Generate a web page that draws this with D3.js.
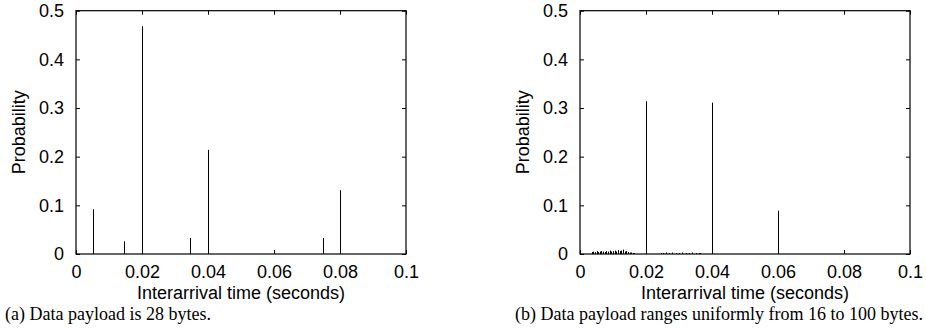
<!DOCTYPE html>
<html>
<head>
<meta charset="utf-8">
<script src="https://cdn.jsdelivr.net/npm/d3@7"></script>
<style>
  body { margin: 0; background: #fff; }
  svg text { font-family: "Liberation Sans", Arial, sans-serif; }
  .caption { font-family: "Liberation Serif", "Times New Roman", serif; font-size: 18px; }
</style>
</head>
<body>
<svg id="chart" width="926" height="329"></svg>
<script>
// Panel (a): payload 28 bytes
var timesA = [0.0052, 0.0145, 0.02, 0.0346, 0.04, 0.0748, 0.08];
var probA = [0.092, 0.026, 0.468, 0.033, 0.214, 0.033, 0.131];

// Panel (b): payload uniform 16..100 bytes
var timesB = [0.0035, 0.004, 0.0045, 0.005, 0.0055, 0.006, 0.0065, 0.007, 0.0075, 0.008,
              0.0085, 0.009, 0.0095, 0.01, 0.0105, 0.011, 0.0115, 0.012, 0.0125, 0.013,
              0.0135, 0.014, 0.0145, 0.015, 0.0155, 0.016, 0.0165,
              0.02,
              0.0245, 0.025, 0.026, 0.027, 0.028, 0.029, 0.03, 0.031, 0.032, 0.033, 0.034, 0.035, 0.036, 0.0365,
              0.04, 0.06];
var probB = [0.004, 0.005, 0.004, 0.006, 0.004, 0.005, 0.006, 0.005, 0.004, 0.006,
             0.005, 0.007, 0.005, 0.006, 0.007, 0.005, 0.008, 0.006, 0.007, 0.009,
             0.005, 0.006, 0.004, 0.003, 0.003, 0.002, 0.002,
             0.314,
             0.002, 0.002, 0.003, 0.002, 0.003, 0.002, 0.002, 0.003, 0.002, 0.002, 0.003, 0.002, 0.002, 0.002,
             0.311, 0.089];

var xTicks = [0, 0.02, 0.04, 0.06, 0.08, 0.1];
var xTickLabels = ["0", "0.02", "0.04", "0.06", "0.08", "0.1"];
var yTicks = [0, 0.1, 0.2, 0.3, 0.4, 0.5];
var yTickLabels = ["0", "0.1", "0.2", "0.3", "0.4", "0.5"];

var captions = ["(a) Data payload is 28 bytes.",
                "(b) Data payload ranges uniformly from 16 to 100 bytes."];

var svg = d3.select("#chart");

function drawPanel(left, times, probs, caption, captionX) {
    var right = left + 330, top = 10.7, bottom = 254;

    var xScale = d3.scaleLinear().domain([0, 0.1]).range([left, right]);
    var yScale = d3.scaleLinear().domain([0, 0.5]).range([bottom, top]);

    var g = svg.append("g");

    // bottom axis with inward ticks
    g.append("g")
        .attr("transform", "translate(0," + bottom + ")")
        .call(d3.axisBottom(xScale)
            .tickValues(xTicks)
            .tickFormat(function(d, i) { return xTickLabels[i]; })
            .tickSizeInner(-4)
            .tickSizeOuter(0)
            .tickPadding(11.7));

    // top mirror ticks
    g.append("g")
        .attr("transform", "translate(0," + top + ")")
        .call(d3.axisTop(xScale).tickValues(xTicks).tickFormat("").tickSizeInner(-4).tickSizeOuter(0));

    // left axis
    g.append("g")
        .attr("transform", "translate(" + left + ",0)")
        .call(d3.axisLeft(yScale)
            .tickValues(yTicks)
            .tickFormat(function(d, i) { return yTickLabels[i]; })
            .tickSizeInner(-4)
            .tickSizeOuter(0)
            .tickPadding(12));

    // right mirror ticks
    g.append("g")
        .attr("transform", "translate(" + right + ",0)")
        .call(d3.axisRight(yScale).tickValues(yTicks).tickFormat("").tickSizeInner(-4).tickSizeOuter(0));

    g.selectAll(".domain").remove();
    g.selectAll(".tick line").attr("stroke", "#000");
    g.selectAll(".tick text").attr("fill", "#000").style("font-size", "18px");

    // frame
    g.append("rect")
        .attr("x", left)
        .attr("y", top)
        .attr("width", right - left)
        .attr("height", bottom - top)
        .attr("fill", "none")
        .attr("stroke", "#000")
        .attr("stroke-width", 1.2);

    // impulses
    g.append("g")
        .selectAll("line")
        .data(times)
        .enter()
        .append("line")
        .attr("x1", function(d) { return Math.round(xScale(d)) + 0.5; })
        .attr("x2", function(d) { return Math.round(xScale(d)) + 0.5; })
        .attr("y1", yScale(0))
        .attr("y2", function(d, i) { return yScale(probs[i]); })
        .attr("stroke", "#000")
        .attr("stroke-width", 1);

    // axis titles
    g.append("text")
        .attr("x", (left + right) / 2)
        .attr("y", 299)
        .attr("text-anchor", "middle")
        .style("font-size", "18px")
        .text("Interarrival time (seconds)");

    g.append("text")
        .attr("transform", "translate(" + (left - 51) + "," + ((top + bottom) / 2) + ") rotate(-90)")
        .attr("text-anchor", "middle")
        .style("font-size", "18px")
        .text("Probability");

    g.append("text")
        .attr("class", "caption")
        .attr("x", captionX)
        .attr("y", 320)
        .text(caption);
}

drawPanel(76, timesA, probA, captions[0], 5);
drawPanel(580, timesB, probB, captions[1], 515);
</script>
</body>
</html>
